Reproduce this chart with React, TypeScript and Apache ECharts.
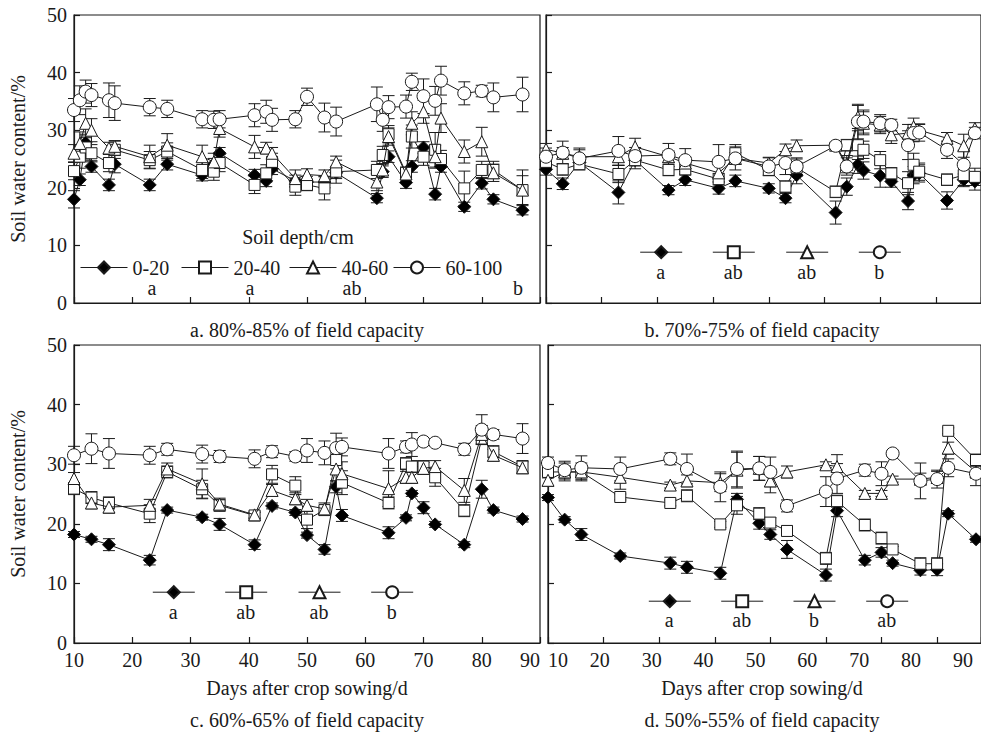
import React, { useEffect, useRef } from "react";
import * as echarts from "echarts";

const FONT = "Liberation Serif, Times New Roman, serif";
const FS = 20;
const DEPTHS = ["0-20", "20-40", "40-60", "60-100"];

// ---- Panel a: 80%-85% of field capacity ----
const daysA = [10, 11, 12, 13, 16, 17, 23, 26, 32, 34, 35, 41, 43, 44, 48, 50, 53, 55, 62, 63, 64, 67, 68, 70, 72, 73, 77, 80, 82, 87];
const a0_20 = [18.0, 21.4, 27.8, 23.7, 20.5, 24.1, 20.5, 24.1, 22.2, 24.1, 26.0, 22.2, 21.2, 23.3, 21.2, 21.0, 21.0, 22.6, 18.2, 22.8, 25.4, 20.9, 23.7, 27.0, 18.9, 23.7, 16.7, 20.8, 18.0, 16.1];
const a20_40 = [22.9, 25.4, 27.0, 26.0, 24.3, 26.6, 24.8, 26.3, 23.1, 22.8, 24.3, 20.5, 22.5, 24.5, 20.2, 20.5, 19.9, 22.8, 23.1, 25.7, 29.3, 22.6, 28.9, 25.4, 26.6, 25.0, 19.9, 23.1, 23.1, 19.6];
const a40_60 = [26.0, 27.7, 31.2, 30.0, 26.9, 27.2, 25.4, 27.4, 25.4, 24.5, 30.3, 27.1, 26.9, 26.0, 21.6, 22.3, 22.1, 24.5, 21.0, 23.1, 28.9, 22.4, 31.2, 33.2, 25.4, 32.1, 26.3, 28.0, 22.6, 19.6];
const a60_100 = [33.5, 35.2, 36.7, 36.1, 35.2, 34.7, 34.0, 33.7, 31.9, 31.8, 31.9, 32.6, 33.2, 31.8, 31.9, 35.8, 32.2, 31.5, 34.5, 31.8, 34.0, 34.1, 38.4, 35.9, 35.1, 38.6, 36.4, 36.8, 35.7, 36.2];
const aErr0_20 = [1.5, 1.0, 1.5, 1.0, 1.0, 1.5, 1.0, 1.0, 1.0, 1.0, 1.0, 1.0, 1.0, 1.0, 1.0, 1.0, 1.0, 1.0, 0.8, 1.0, 1.0, 1.0, 1.0, 1.0, 1.0, 1.0, 0.8, 1.0, 0.8, 0.8];
const aErr20_40 = [1.5, 2.0, 2.0, 1.5, 1.5, 1.5, 1.5, 1.5, 1.5, 1.5, 1.5, 1.5, 1.5, 1.5, 1.5, 1.0, 2.0, 2.0, 1.5, 1.5, 1.5, 1.0, 2.0, 1.5, 3.0, 1.5, 3.0, 1.5, 1.5, 3.5];
const aErr40_60 = [1.5, 2.0, 2.5, 2.0, 1.0, 1.0, 2.0, 2.0, 2.0, 1.5, 1.5, 2.0, 1.0, 1.0, 1.5, 1.0, 1.0, 1.0, 1.5, 1.0, 1.5, 1.0, 2.0, 2.0, 2.0, 2.5, 2.0, 2.5, 1.5, 2.5];
const aErr60_100 = [2.0, 2.5, 2.0, 2.0, 3.0, 3.0, 1.5, 1.5, 1.5, 1.5, 1.5, 2.0, 2.0, 2.0, 1.5, 1.5, 2.5, 2.5, 3.0, 2.0, 2.0, 2.0, 1.5, 3.0, 2.5, 2.5, 2.0, 1.0, 2.5, 3.0];

// ---- Panel b: 70%-75% of field capacity ----
const daysB = [10, 13, 16, 23, 26, 32, 35, 41, 44, 50, 53, 55, 62, 64, 66, 67, 70, 72, 75, 76, 77, 82, 85, 87];
const b0_20 = [23.2, 20.7, 24.4, 19.2, 24.8, 19.6, 21.4, 19.9, 21.2, 19.9, 18.2, 22.2, 15.7, 20.2, 24.0, 23.0, 22.1, 21.1, 17.7, 22.2, 22.5, 17.8, 21.4, 21.1];
const b20_40 = [24.5, 23.2, 24.1, 22.4, 24.8, 23.1, 23.2, 21.5, 26.0, 23.1, 20.2, 23.5, 19.3, 27.4, 27.4, 26.6, 24.8, 22.5, 20.8, 24.0, 22.8, 21.4, 22.2, 21.9];
const b40_60 = [26.7, 26.0, 25.4, 25.4, 27.1, 25.4, 24.3, 22.6, 25.1, 24.3, 26.6, 27.3, 27.4, 24.1, 32.3, 31.2, 30.9, 29.2, 29.5, 30.6, 30.0, 28.6, 27.3, 30.3];
const b60_100 = [25.4, 26.1, 25.1, 26.4, 25.5, 25.7, 24.8, 24.5, 25.1, 23.7, 24.3, 23.7, 27.3, 23.7, 31.5, 31.5, 31.2, 30.9, 27.4, 29.5, 29.6, 26.6, 24.0, 29.5];
const bErr0_20 = [1.0, 1.0, 1.0, 2.0, 1.0, 0.8, 1.0, 1.0, 1.0, 0.8, 0.8, 1.5, 2.0, 1.5, 1.5, 1.5, 2.0, 1.0, 1.5, 1.5, 1.5, 1.5, 1.0, 1.5];
const bErr20_40 = [1.0, 1.0, 1.0, 1.5, 1.5, 1.0, 1.0, 1.0, 1.5, 1.0, 1.0, 1.5, 1.0, 1.0, 2.5, 1.5, 1.5, 1.0, 2.0, 2.0, 1.5, 1.0, 2.0, 1.5];
const bErr40_60 = [1.0, 1.0, 1.5, 1.5, 1.5, 1.0, 1.0, 1.5, 1.0, 1.0, 1.0, 1.0, 0.5, 1.5, 2.0, 2.0, 1.5, 1.5, 1.5, 1.5, 1.0, 1.0, 2.0, 1.0];
const bErr60_100 = [1.5, 2.0, 1.5, 2.5, 1.5, 2.0, 2.0, 3.0, 2.0, 1.5, 2.0, 1.5, 0.5, 1.5, 3.0, 2.0, 1.5, 1.0, 2.5, 1.5, 1.5, 1.5, 2.5, 1.0];

// ---- Panel c: 60%-65% of field capacity ----
const daysC = [10, 13, 16, 23, 26, 32, 35, 41, 44, 48, 50, 53, 55, 56, 64, 67, 68, 70, 72, 77, 80, 82, 87];
const c0_20 = [18.2, 17.4, 16.5, 13.9, 22.3, 21.1, 19.9, 16.5, 23.0, 21.9, 18.1, 15.7, 26.2, 21.4, 18.5, 21.0, 25.1, 22.7, 19.9, 16.5, 25.8, 22.3, 20.8];
const c20_40 = [25.9, 24.4, 23.5, 21.7, 28.7, 25.8, 23.1, 21.4, 28.3, 26.4, 20.7, 22.3, 30.7, 26.9, 23.5, 30.1, 29.6, 29.6, 27.8, 22.2, 34.3, 32.1, 29.6];
const c40_60 = [27.6, 23.5, 22.8, 23.1, 29.2, 26.7, 23.3, 21.5, 25.6, 24.2, 23.1, 22.5, 29.2, 28.4, 25.9, 27.8, 27.8, 29.3, 29.6, 25.6, 35.0, 31.5, 29.4];
const c60_100 = [31.5, 32.6, 31.8, 31.5, 32.5, 31.7, 31.3, 30.9, 32.1, 31.3, 32.3, 31.9, 32.7, 32.9, 31.8, 32.9, 33.3, 33.8, 33.6, 32.5, 35.8, 35.0, 34.3];
const cErr0_20 = [0.5, 0.5, 1.0, 0.8, 0.5, 0.5, 1.0, 0.8, 0.5, 0.5, 0.5, 0.8, 1.0, 1.0, 1.0, 0.5, 0.5, 1.0, 0.5, 0.5, 1.5, 0.5, 0.5];
const cErr20_40 = [1.0, 1.0, 1.0, 1.5, 1.0, 1.5, 1.0, 0.5, 1.5, 1.5, 1.5, 0.5, 1.5, 2.0, 1.0, 1.0, 1.0, 1.0, 1.5, 1.0, 1.0, 1.0, 1.0];
const cErr40_60 = [1.0, 1.0, 1.0, 1.0, 1.0, 2.5, 1.0, 0.5, 1.0, 1.0, 1.0, 1.0, 2.0, 2.0, 3.0, 1.0, 1.0, 1.0, 1.0, 2.0, 1.5, 1.0, 1.0];
const cErr60_100 = [1.5, 2.5, 2.5, 1.5, 1.0, 1.5, 1.0, 1.5, 1.0, 0.8, 2.0, 2.0, 2.5, 1.5, 2.5, 1.0, 2.0, 0.5, 0.5, 1.0, 2.5, 0.8, 2.5];

// ---- Panel d: 50%-55% of field capacity ----
const daysD = [10, 13, 16, 23, 32, 35, 41, 44, 48, 50, 53, 60, 62, 67, 70, 72, 77, 80, 82, 87];
const d0_20 = [24.4, 20.7, 18.2, 14.6, 13.4, 12.7, 11.7, 24.1, 20.1, 18.2, 15.7, 11.4, 22.2, 13.9, 15.2, 13.4, 12.2, 12.3, 21.7, 17.4];
const d20_40 = [28.7, 28.7, 28.7, 24.5, 23.5, 24.7, 19.9, 23.1, 21.7, 20.2, 18.8, 14.2, 23.8, 19.8, 17.6, 15.7, 13.3, 13.3, 35.6, 30.7];
const d40_60 = [27.3, 28.7, 28.7, 27.8, 26.5, 27.2, 26.9, 29.0, 29.3, 27.2, 28.7, 29.9, 29.6, 25.1, 25.1, 27.5, 27.5, 27.8, 32.7, 28.7];
const d60_100 = [30.2, 29.0, 29.4, 29.2, 30.9, 29.2, 26.2, 29.2, 29.3, 28.7, 23.0, 25.4, 27.6, 29.0, 28.4, 31.8, 27.2, 27.5, 29.4, 28.4];
const dErr0_20 = [0.5, 0.5, 1.0, 0.5, 1.0, 1.0, 1.0, 1.0, 1.0, 0.8, 1.5, 1.0, 1.0, 0.8, 0.8, 0.5, 0.8, 1.0, 0.5, 0.5];
const dErr20_40 = [1.0, 1.0, 1.0, 0.5, 0.5, 1.0, 0.5, 1.5, 1.0, 0.8, 0.8, 1.0, 1.0, 1.0, 1.0, 0.5, 1.0, 1.0, 0.5, 1.0];
const dErr40_60 = [1.0, 1.5, 1.5, 2.0, 0.5, 1.0, 1.5, 3.0, 2.0, 2.0, 1.0, 0.5, 2.0, 0.5, 0.5, 0.5, 1.0, 1.0, 1.0, 1.0];
const dErr60_100 = [1.0, 1.5, 2.0, 2.0, 1.0, 2.5, 2.5, 3.0, 2.0, 2.5, 1.0, 2.5, 2.5, 1.0, 2.0, 0.5, 3.0, 1.5, 1.5, 2.0];

// significance letters per panel (0-20, 20-40, 40-60, 60-100)
const lettersA = ["a", "a", "ab", "b"];
const lettersB = ["a", "ab", "ab", "b"];
const lettersC = ["a", "ab", "ab", "b"];
const lettersD = ["a", "ab", "b", "ab"];

const titles = [
  "a. 80%-85% of field capacity",
  "b. 70%-75% of field capacity",
  "c. 60%-65% of field capacity",
  "d. 50%-55% of field capacity",
];
const yName = "Soil water content/%";
const xName = "Days after crop sowing/d";
const legendTitle = "Soil depth/cm";

const SYM = [
  { symbol: "diamond", size: 13, fill: "#000" },
  { symbol: "rect", size: 11, fill: "#fff" },
  { symbol: "triangle", size: 12, fill: "#fff" },
  { symbol: "circle", size: 13, fill: "#fff" },
];

const INK = "#1a1a1a";
const axisLineStyle = { color: INK, width: 1.2 };

function buildOption() {
  const panels = [
    { days: daysA, vals: [a0_20, a20_40, a40_60, a60_100], errs: [aErr0_20, aErr20_40, aErr40_60, aErr60_100], x: 0, y: 0 },
    { days: daysB, vals: [b0_20, b20_40, b40_60, b60_100], errs: [bErr0_20, bErr20_40, bErr40_60, bErr60_100], x: 1, y: 1 },
    { days: daysC, vals: [c0_20, c20_40, c40_60, c60_100], errs: [cErr0_20, cErr20_40, cErr40_60, cErr60_100], x: 2, y: 2 },
    { days: daysD, vals: [d0_20, d20_40, d40_60, d60_100], errs: [dErr0_20, dErr20_40, dErr40_60, dErr60_100], x: 3, y: 3 },
  ];

  const series: any[] = [];
  panels.forEach((p, pi) => {
    p.vals.forEach((vals, k) => {
      const errs = p.errs[k];
      series.push({
        type: "custom",
        name: "err-" + pi + "-" + k,
        xAxisIndex: p.x,
        yAxisIndex: p.y,
        z: 1,
        silent: true,
        encode: { x: 0, y: [1, 2] },
        data: p.days.map((d, j) => [d, vals[j] - errs[j], vals[j] + errs[j]]),
        renderItem: (params: any, api: any) => {
          const x = api.value(0);
          const lo = api.coord([x, api.value(1)]);
          const hi = api.coord([x, api.value(2)]);
          const w = 6;
          const st = { stroke: INK, lineWidth: 1 };
          return {
            type: "group",
            children: [
              { type: "line", shape: { x1: lo[0], y1: lo[1], x2: hi[0], y2: hi[1] }, style: st },
              { type: "line", shape: { x1: lo[0] - w, y1: lo[1], x2: lo[0] + w, y2: lo[1] }, style: st },
              { type: "line", shape: { x1: hi[0] - w, y1: hi[1], x2: hi[0] + w, y2: hi[1] }, style: st },
            ],
          };
        },
      });
      series.push({
        type: "line",
        name: DEPTHS[k],
        xAxisIndex: p.x,
        yAxisIndex: p.y,
        z: 3 + k,
        data: p.days.map((d, j) => [d, vals[j]]),
        symbol: SYM[k].symbol,
        symbolSize: SYM[k].size,
        showSymbol: true,
        lineStyle: { color: INK, width: 1 },
        itemStyle: { color: SYM[k].fill, borderColor: INK, borderWidth: 1 },
        emphasis: { disabled: true },
      });
    });
  });

  const grids = [
    { left: 74, top: 15, width: 466, height: 288 },
    { left: 546, top: 15, width: 435, height: 288 },
    { left: 74, top: 345, width: 466, height: 298 },
    { left: 548, top: 345, width: 433, height: 298 },
  ].map((g) => ({ ...g, show: true, borderColor: INK, borderWidth: 1.2, backgroundColor: "transparent" }));

  const baseX = (gridIndex: number, max: number, showLabel: boolean) => ({
    type: "value",
    gridIndex,
    position: "bottom",
    min: 10,
    max,
    interval: 10,
    axisLine: { show: true, onZero: false, lineStyle: axisLineStyle },
    axisTick: { show: true, inside: true, length: 6, lineStyle: axisLineStyle },
    axisLabel: { show: showLabel, fontSize: FS, fontFamily: FONT, color: INK, margin: 7, alignMaxLabel: "right" },
    splitLine: { show: false },
  });

  const xAxis: any[] = [
    baseX(0, 90, false),
    baseX(1, 88.1, false),
    baseX(2, 90, true),
    baseX(3, 87.9, false),
    {
      type: "value",
      gridIndex: 3,
      position: "bottom",
      offset: 0,
      min: 10,
      max: 93.47,
      interval: 10,
      axisLine: { show: false, onZero: false },
      axisTick: { show: false },
      axisLabel: {
        show: true,
        fontSize: FS,
        fontFamily: FONT,
        color: INK,
        margin: 7,
        showMaxLabel: false,
        alignMinLabel: "left",
      },
      splitLine: { show: false },
    },
  ];

  const baseY = (gridIndex: number, showLabel: boolean) => ({
    type: "value",
    gridIndex,
    min: 0,
    max: 50,
    interval: 10,
    axisLine: { show: true, onZero: false, lineStyle: axisLineStyle },
    axisTick: { show: true, inside: true, length: 6, lineStyle: axisLineStyle },
    axisLabel: { show: showLabel, fontSize: FS, fontFamily: FONT, color: INK, margin: 7 },
    splitLine: { show: false },
    name: showLabel ? yName : "",
    nameLocation: "middle",
    nameGap: 46,
    nameTextStyle: { fontSize: FS, fontFamily: FONT, color: INK },
  });
  const yAxis = [baseY(0, true), baseY(1, false), baseY(2, true), baseY(3, false)];

  // legends: one per key item, so each key sits where the reference draws it
  const legendBase = {
    orient: "horizontal",
    padding: 0,
    itemWidth: 47,
    itemHeight: 15,
    selectedMode: false,
    lineStyle: { color: INK, width: 1 },
    textStyle: { fontSize: FS, fontFamily: FONT, color: INK, lineHeight: 15 },
  };
  const legend: any[] = [];
  const aLefts = [80, 181, 289, 393];
  aLefts.forEach((l, k) => legend.push({ ...legendBase, left: l, top: 257.5, data: [DEPTHS[k]], itemGap: 0 }));
  const keyRows = [
    { centers: [660.7, 733.3, 806.7, 879.3], y: 252.7, ly: 271.7, letters: lettersB },
    { centers: [173.3, 245.7, 319, 391.7], y: 592.7, ly: 611.7, letters: lettersC },
    { centers: [669.3, 741.7, 814, 886.7], y: 601.7, ly: 620, letters: lettersD },
  ];
  keyRows.forEach((row) => {
    row.centers.forEach((cx, k) =>
      legend.push({ ...legendBase, itemWidth: 42, left: cx - 21, top: row.y - 7.5, data: [DEPTHS[k]], formatter: () => "" })
    );
  });

  const txt = (text: string, x: number, y: number) => ({
    type: "text",
    x,
    y,
    silent: true,
    style: { text, fontSize: FS, fontFamily: FONT, fill: INK, align: "center", verticalAlign: "middle" },
  });
  const graphic: any[] = [
    txt(titles[0], 307, 330),
    txt(titles[1], 762, 330),
    txt(titles[2], 307, 720),
    txt(titles[3], 762, 720),
    txt(xName, 307, 688),
    txt(xName, 762, 688),
    txt(legendTitle, 298, 237),
  ];
  const aLetterX = [152, 250, 352, 518];
  aLetterX.forEach((x, k) => graphic.push(txt(lettersA[k], x, 288)));
  keyRows.forEach((row) => row.centers.forEach((x, k) => graphic.push(txt(row.letters[k], x, row.ly))));

  return {
    animation: false,
    backgroundColor: "#fff",
    textStyle: { fontFamily: FONT },
    grid: grids,
    xAxis,
    yAxis,
    legend,
    series,
    graphic: { elements: graphic },
  };
}

export default function App() {
  const ref = useRef<HTMLDivElement>(null);
  useEffect(() => {
    if (!ref.current) return;
    const chart = echarts.init(ref.current, undefined, { renderer: "svg" });
    chart.setOption(buildOption() as any);
    return () => chart.dispose();
  }, []);
  return (
    <div
      ref={ref}
      style={{ position: "fixed", left: 0, top: 0, width: 981, height: 738, background: "#fff" }}
    />
  );
}
